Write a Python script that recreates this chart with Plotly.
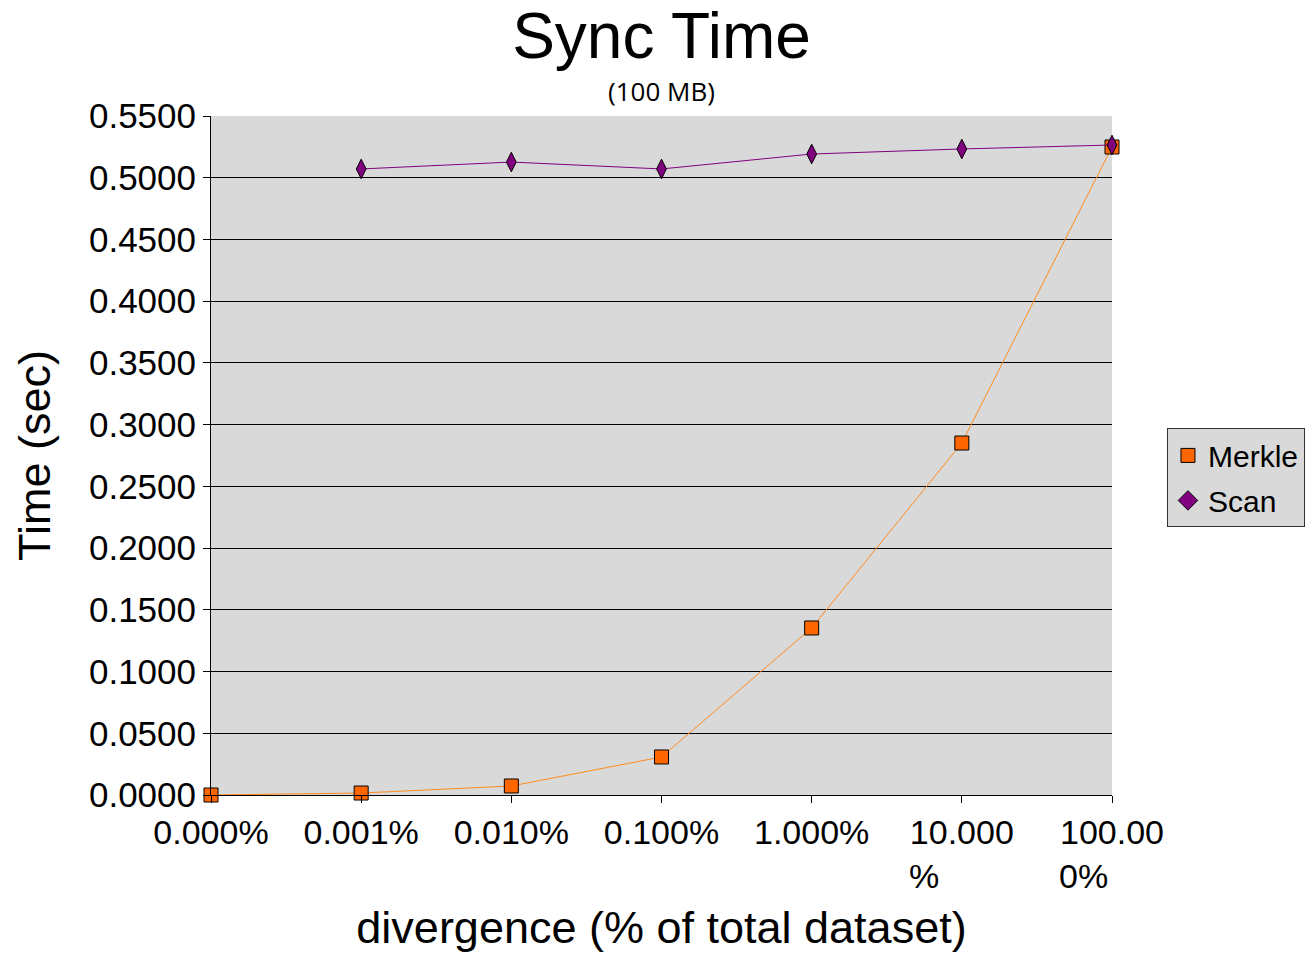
import plotly.graph_objects as go

categories = ["0.000%", "0.001%", "0.010%", "0.100%", "1.000%", "10.000%", "100.000%"]
tick_labels = ["0.000%", "0.001%", "0.010%", "0.100%", "1.000%",
               "10.000<br>%\u00a0\u00a0\u00a0\u00a0\u00a0\u00a0\u00a0\u00a0",
               "100.00<br>0%\u00a0\u00a0\u00a0\u00a0\u00a0\u00a0"]
merkle = [0.0000, 0.0016, 0.0073, 0.0308, 0.1353, 0.2851, 0.5249]
scan = [None, 0.5071, 0.5127, 0.5071, 0.5192, 0.5233, 0.5265]

xpos = list(range(len(categories)))
FONT = "Liberation Sans, Arial, sans-serif"

fig = go.Figure()
fig.add_trace(go.Scatter(
    x=xpos, y=merkle, mode="lines+markers", name="Merkle", showlegend=False,
    line=dict(color="#FF8A20", width=1),
    marker=dict(symbol="square", size=14, color="#FF6600", line=dict(color="#000000", width=1)),
    cliponaxis=False))
fig.add_trace(go.Scatter(
    x=xpos, y=scan, mode="lines+markers", name="Scan", showlegend=False,
    line=dict(color="#800080", width=1),
    marker=dict(symbol="diamond-tall", size=14, color="#800080", line=dict(color="#000000", width=1)),
    cliponaxis=False))
# legend entries (marker only)
fig.add_trace(go.Scatter(x=[None], y=[None], mode="markers", name="Merkle", legendgroup="m",
    marker=dict(symbol="square", size=14, color="#FF6600", line=dict(color="#000000", width=1))))
fig.add_trace(go.Scatter(x=[None], y=[None], mode="markers", name="Scan", legendgroup="s",
    marker=dict(symbol="diamond", size=15, color="#800080", line=dict(color="#000000", width=1))))

fig.update_layout(
    width=1307, height=953,
    margin=dict(l=211, r=195, t=116, b=158, autoexpand=False),
    paper_bgcolor="white", plot_bgcolor="#D9D9D9",
    font=dict(family=FONT, color="black"),
    title=dict(text="Sync Time", x=0.5, xanchor="center", xref="paper",
               y=0.963, yanchor="middle", font=dict(size=64, family=FONT)),
    showlegend=True,
    legend=dict(x=1.061, xanchor="left", y=0.467, yanchor="middle",
                bgcolor="#D9D9D9", bordercolor="#333333", borderwidth=1,
                tracegroupgap=3,
                font=dict(size=30, family=FONT)),
    annotations=[dict(text="(100 MB)", x=0.5, xref="paper", y=1.037, yref="paper",
                      yanchor="middle", showarrow=False,
                      font=dict(size=26, family="Open Sans, Noto Sans, sans-serif"))],
)
fig.update_xaxes(
    range=[0, 6], tickmode="array", tickvals=xpos, ticktext=tick_labels,
    showgrid=False, zeroline=False, showline=True, linecolor="black", linewidth=1,
    ticks="outside", ticklen=7, tickcolor="black", tickangle=0,
    tickfont=dict(size=34, family=FONT),
    title=dict(text="divergence (% of total dataset)", font=dict(size=45, family=FONT), standoff=18))
fig.update_yaxes(
    range=[0, 0.55], tickmode="linear", tick0=0, dtick=0.05, tickformat=".4f",
    showgrid=True, gridcolor="#000000", gridwidth=1, zeroline=False,
    showline=True, linecolor="black", linewidth=1,
    ticks="outside", ticklen=7, tickcolor="black",
    tickfont=dict(size=35, family=FONT),
    title=dict(text="Time (sec)", font=dict(size=45, family=FONT), standoff=24))

fig.write_html("out.html")
